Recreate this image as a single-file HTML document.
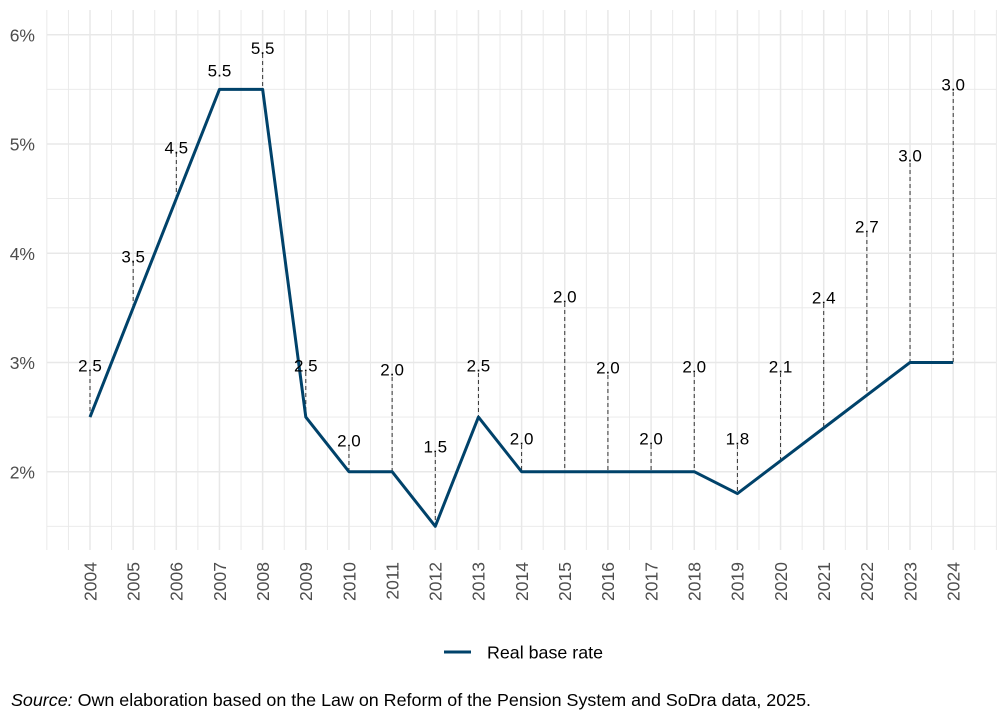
<!DOCTYPE html>
<html>
<head>
<meta charset="utf-8">
<style>
  html, body { margin: 0; padding: 0; background: #ffffff; }
  svg { display: block; }
  text { font-family: "Liberation Sans", Arial, sans-serif; }
</style>
</head>
<body>
<svg width="1008" height="720" viewBox="0 0 1008 720" xmlns="http://www.w3.org/2000/svg">
  <rect x="0" y="0" width="1008" height="720" fill="#ffffff"/>

  <!-- minor horizontal gridlines -->
  <g stroke="#e8e8e8" stroke-width="0.9">
    <line x1="46.84" y1="89.35" x2="996.36" y2="89.35"/>
    <line x1="46.84" y1="198.6" x2="996.36" y2="198.6"/>
    <line x1="46.84" y1="307.8" x2="996.36" y2="307.8"/>
    <line x1="46.84" y1="417.1" x2="996.36" y2="417.1"/>
    <line x1="46.84" y1="526.3" x2="996.36" y2="526.3"/>
  </g>
  <!-- minor vertical gridlines -->
  <g stroke="#e8e8e8" stroke-width="0.9">
    <line x1="46.84" y1="10" x2="46.84" y2="550"/>
    <line x1="68.42" y1="10" x2="68.42" y2="550"/>
    <line x1="111.58" y1="10" x2="111.58" y2="550"/>
    <line x1="154.74" y1="10" x2="154.74" y2="550"/>
    <line x1="197.9" y1="10" x2="197.9" y2="550"/>
    <line x1="241.06" y1="10" x2="241.06" y2="550"/>
    <line x1="284.22" y1="10" x2="284.22" y2="550"/>
    <line x1="327.38" y1="10" x2="327.38" y2="550"/>
    <line x1="370.54" y1="10" x2="370.54" y2="550"/>
    <line x1="413.7" y1="10" x2="413.7" y2="550"/>
    <line x1="456.86" y1="10" x2="456.86" y2="550"/>
    <line x1="500.02" y1="10" x2="500.02" y2="550"/>
    <line x1="543.18" y1="10" x2="543.18" y2="550"/>
    <line x1="586.34" y1="10" x2="586.34" y2="550"/>
    <line x1="629.5" y1="10" x2="629.5" y2="550"/>
    <line x1="672.66" y1="10" x2="672.66" y2="550"/>
    <line x1="715.82" y1="10" x2="715.82" y2="550"/>
    <line x1="758.98" y1="10" x2="758.98" y2="550"/>
    <line x1="802.14" y1="10" x2="802.14" y2="550"/>
    <line x1="845.3" y1="10" x2="845.3" y2="550"/>
    <line x1="888.46" y1="10" x2="888.46" y2="550"/>
    <line x1="931.62" y1="10" x2="931.62" y2="550"/>
    <line x1="974.78" y1="10" x2="974.78" y2="550"/>
    <line x1="996.36" y1="10" x2="996.36" y2="550"/>
  </g>
  <!-- major horizontal gridlines -->
  <g stroke="#e8e8e8" stroke-width="1.5">
    <line x1="46.84" y1="34.7" x2="996.36" y2="34.7"/>
    <line x1="46.84" y1="144" x2="996.36" y2="144"/>
    <line x1="46.84" y1="253.25" x2="996.36" y2="253.25"/>
    <line x1="46.84" y1="362.45" x2="996.36" y2="362.45"/>
    <line x1="46.84" y1="471.7" x2="996.36" y2="471.7"/>
  </g>
  <!-- major vertical gridlines -->
  <g stroke="#e8e8e8" stroke-width="1.5">
    <line x1="90" y1="10" x2="90" y2="550"/>
    <line x1="133.16" y1="10" x2="133.16" y2="550"/>
    <line x1="176.32" y1="10" x2="176.32" y2="550"/>
    <line x1="219.48" y1="10" x2="219.48" y2="550"/>
    <line x1="262.64" y1="10" x2="262.64" y2="550"/>
    <line x1="305.8" y1="10" x2="305.8" y2="550"/>
    <line x1="348.96" y1="10" x2="348.96" y2="550"/>
    <line x1="392.12" y1="10" x2="392.12" y2="550"/>
    <line x1="435.28" y1="10" x2="435.28" y2="550"/>
    <line x1="478.44" y1="10" x2="478.44" y2="550"/>
    <line x1="521.6" y1="10" x2="521.6" y2="550"/>
    <line x1="564.76" y1="10" x2="564.76" y2="550"/>
    <line x1="607.92" y1="10" x2="607.92" y2="550"/>
    <line x1="651.08" y1="10" x2="651.08" y2="550"/>
    <line x1="694.24" y1="10" x2="694.24" y2="550"/>
    <line x1="737.4" y1="10" x2="737.4" y2="550"/>
    <line x1="780.56" y1="10" x2="780.56" y2="550"/>
    <line x1="823.72" y1="10" x2="823.72" y2="550"/>
    <line x1="866.88" y1="10" x2="866.88" y2="550"/>
    <line x1="910.04" y1="10" x2="910.04" y2="550"/>
    <line x1="953.2" y1="10" x2="953.2" y2="550"/>
  </g>

  <!-- dashed leader segments -->
  <g stroke="#333333" stroke-width="1" stroke-dasharray="4,3" fill="none">
    <line x1="90" y1="372" x2="90" y2="417.1"/>
    <line x1="133.16" y1="262" x2="133.16" y2="307.8"/>
    <line x1="176.32" y1="153" x2="176.32" y2="198.6"/>
    <line x1="262.64" y1="54" x2="262.64" y2="89.35"/>
    <line x1="305.8" y1="372" x2="305.8" y2="417.1"/>
    <line x1="348.96" y1="447" x2="348.96" y2="471.7"/>
    <line x1="392.12" y1="377" x2="392.12" y2="471.7"/>
    <line x1="435.28" y1="453" x2="435.28" y2="526.3"/>
    <line x1="478.44" y1="373" x2="478.44" y2="417.1"/>
    <line x1="521.6" y1="445" x2="521.6" y2="471.7"/>
    <line x1="564.76" y1="303" x2="564.76" y2="471.7"/>
    <line x1="607.92" y1="375" x2="607.92" y2="471.7"/>
    <line x1="651.08" y1="445" x2="651.08" y2="471.7"/>
    <line x1="694.24" y1="373" x2="694.24" y2="471.7"/>
    <line x1="737.4" y1="445" x2="737.4" y2="493.55"/>
    <line x1="780.56" y1="373" x2="780.56" y2="460.8"/>
    <line x1="823.72" y1="304" x2="823.72" y2="428"/>
    <line x1="866.88" y1="233" x2="866.88" y2="395.2"/>
    <line x1="910.04" y1="163" x2="910.04" y2="362.45"/>
    <line x1="953.2" y1="92" x2="953.2" y2="362.45"/>
  </g>

  <!-- data line -->
  <polyline fill="none" stroke="#00426a" stroke-width="3" stroke-linejoin="round"
    points="90,417.1 133.16,307.8 176.32,198.6 219.48,89.35 262.64,89.35 305.8,417.1 348.96,471.7 392.12,471.7 435.28,526.3 478.44,417.1 521.6,471.7 564.76,471.7 607.92,471.7 651.08,471.7 694.24,471.7 737.4,493.55 780.56,460.8 823.72,428 866.88,395.2 910.04,362.45 953.2,362.45"/>

  <!-- data labels -->
  <g font-size="17" fill="#000000" text-anchor="middle">
    <text x="90" y="371.5">2.5</text>
    <text x="133.16" y="262.5">3.5</text>
    <text x="176.32" y="153.5">4.5</text>
    <text x="219.48" y="76.5">5.5</text>
    <text x="262.64" y="54">5.5</text>
    <text x="305.8" y="371.5">2.5</text>
    <text x="348.96" y="446.5">2.0</text>
    <text x="392.12" y="375.5">2.0</text>
    <text x="435.28" y="452.5">1.5</text>
    <text x="478.44" y="371.5">2.5</text>
    <text x="521.6" y="444.5">2.0</text>
    <text x="564.76" y="302.5">2.0</text>
    <text x="607.92" y="373.5">2.0</text>
    <text x="651.08" y="444.5">2.0</text>
    <text x="694.24" y="372.5">2.0</text>
    <text x="737.4" y="444.5">1.8</text>
    <text x="780.56" y="372.5">2.1</text>
    <text x="823.72" y="303.5">2.4</text>
    <text x="866.88" y="232.5">2.7</text>
    <text x="910.04" y="161.5">3.0</text>
    <text x="953.2" y="90.5">3.0</text>
  </g>

  <!-- y axis labels -->
  <g font-size="17.5" fill="#4d4d4d" text-anchor="end">
    <text x="35" y="41.3">6%</text>
    <text x="35" y="150.6">5%</text>
    <text x="35" y="259.8">4%</text>
    <text x="35" y="369">3%</text>
    <text x="35" y="478.3">2%</text>
  </g>

  <!-- x axis labels -->
  <g font-size="17.5" fill="#4d4d4d" text-anchor="end">
    <text transform="translate(96.3,562) rotate(-90)">2004</text>
    <text transform="translate(139.46,562) rotate(-90)">2005</text>
    <text transform="translate(182.62,562) rotate(-90)">2006</text>
    <text transform="translate(225.78,562) rotate(-90)">2007</text>
    <text transform="translate(268.94,562) rotate(-90)">2008</text>
    <text transform="translate(312.1,562) rotate(-90)">2009</text>
    <text transform="translate(355.26,562) rotate(-90)">2010</text>
    <text transform="translate(398.42,562) rotate(-90)">2011</text>
    <text transform="translate(441.58,562) rotate(-90)">2012</text>
    <text transform="translate(484.74,562) rotate(-90)">2013</text>
    <text transform="translate(527.9,562) rotate(-90)">2014</text>
    <text transform="translate(571.06,562) rotate(-90)">2015</text>
    <text transform="translate(614.22,562) rotate(-90)">2016</text>
    <text transform="translate(657.38,562) rotate(-90)">2017</text>
    <text transform="translate(700.54,562) rotate(-90)">2018</text>
    <text transform="translate(743.7,562) rotate(-90)">2019</text>
    <text transform="translate(786.86,562) rotate(-90)">2020</text>
    <text transform="translate(830.02,562) rotate(-90)">2021</text>
    <text transform="translate(873.18,562) rotate(-90)">2022</text>
    <text transform="translate(916.34,562) rotate(-90)">2023</text>
    <text transform="translate(959.5,562) rotate(-90)">2024</text>
  </g>

  <!-- legend -->
  <line x1="444" y1="652" x2="471" y2="652" stroke="#00426a" stroke-width="3"/>
  <text x="487" y="658.5" font-size="17.5" fill="#000000" textLength="116" lengthAdjust="spacingAndGlyphs">Real base rate</text>

  <!-- caption -->
  <text x="11" y="706" font-size="17.5" fill="#000000" textLength="800" lengthAdjust="spacingAndGlyphs"><tspan font-style="italic">Source:</tspan> Own elaboration based on the Law on Reform of the Pension System and SoDra data, 2025.</text>
</svg>
</body>
</html>
